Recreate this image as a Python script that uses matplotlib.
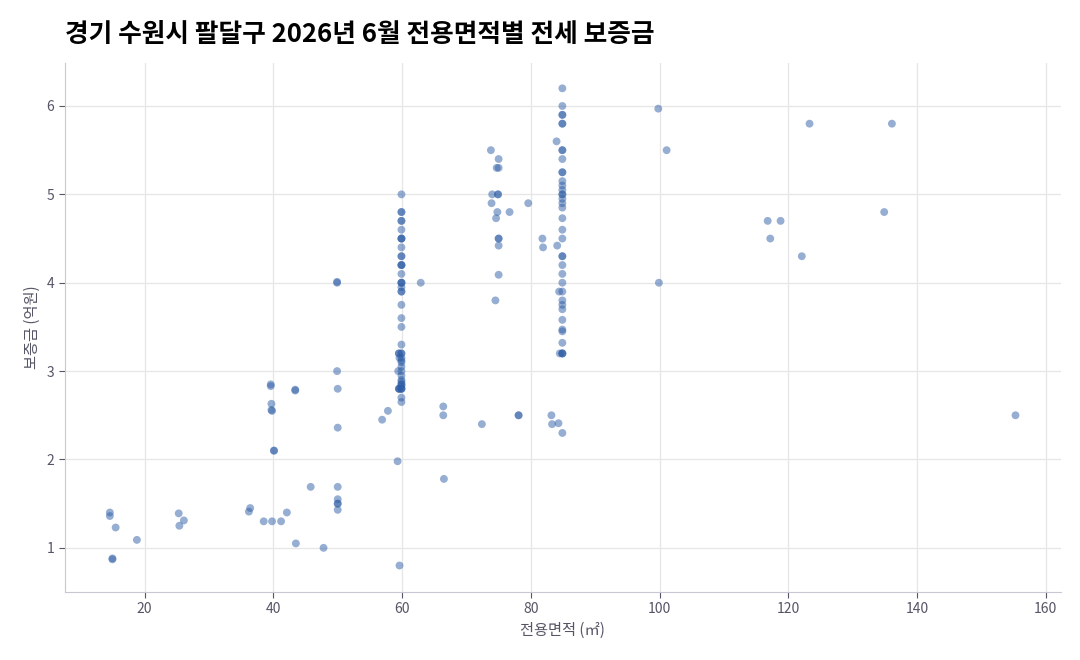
import matplotlib.pyplot as plt

plt.rcParams['font.family'] = ['Noto Sans CJK KR', 'DejaVu Sans']

# area (m²), deposit (억원)
area = [
    14.6, 14.6, 15.0, 15.0, 15.5, 18.8, 25.3, 25.4, 26.1,
    36.2, 36.4, 38.5, 39.6, 39.6, 39.7, 39.7, 39.8, 39.8, 40.1, 40.1, 41.2, 42.1, 43.4, 43.4, 43.5,
    45.8, 47.8, 49.9, 49.9, 49.9, 50.0, 50.0, 50.0, 50.0, 50.0, 50.0, 50.0,
    56.9, 57.8, 59.3, 59.4, 59.5, 59.5, 59.5, 59.5, 59.6, 59.6, 59.6,
] + [59.9] * 44 + [
    62.9, 66.4, 66.4, 66.5, 72.4, 73.8, 73.9, 74.0, 74.5, 74.6, 74.7, 74.8, 74.9, 74.9, 75.0, 75.0,
    75.0, 75.0, 75.0, 75.0, 76.7, 78.1, 78.1, 79.6, 81.8, 81.9, 83.2, 83.3, 84.0, 84.1, 84.3,
    84.4, 84.5,
] + [84.9] * 39 + [
    99.8, 99.9, 101.1, 116.8, 117.2, 118.8, 122.1, 123.3, 134.9, 136.1, 155.3,
]
deposit = [
    1.40, 1.36, 0.87, 0.88, 1.23, 1.09, 1.39, 1.25, 1.31,
    1.41, 1.45, 1.30, 2.85, 2.83, 2.63, 2.56, 2.55, 1.30, 2.10, 2.10, 1.30, 1.40, 2.78, 2.79, 1.05,
    1.69, 1.00, 4.00, 4.01, 3.00, 2.80, 2.36, 1.69, 1.55, 1.50, 1.50, 1.43,
    2.45, 2.55, 1.98, 3.00, 3.20, 3.20, 2.80, 2.80, 0.80, 3.15, 2.80,
    5.00, 4.80, 4.80, 4.70, 4.70, 4.60, 4.50, 4.50, 4.50, 4.40, 4.30, 4.30, 4.20, 4.20, 4.20, 4.10,
    4.00, 4.00, 4.00, 3.95, 3.90, 3.90, 3.75, 3.60, 3.50, 3.30, 3.20, 3.20, 3.15, 3.10, 3.00, 2.95,
    2.90, 2.85, 2.85, 2.80, 2.80, 2.80, 2.70, 2.65, 2.83, 3.05, 3.12, 2.88,
    4.00, 2.60, 2.50, 1.78, 2.40, 5.50, 4.90, 5.00, 3.80, 4.73, 5.30, 4.80, 5.00, 5.00, 5.40, 5.30,
    4.50, 4.50, 4.42, 4.09, 4.80, 2.50, 2.50, 4.90, 4.50, 4.40, 2.50, 2.40, 5.60, 4.42, 2.41,
    3.90, 3.20,
    6.20, 6.00, 5.90, 5.90, 5.80, 5.80, 5.50, 5.50, 5.40, 5.25, 5.25, 5.15, 5.10, 5.05, 5.00,
    5.00, 4.95, 4.90, 4.85, 4.73, 4.60, 4.50, 4.30, 4.30, 4.20, 4.10, 4.00, 3.90, 3.80, 3.75, 3.70,
    3.58, 3.47, 3.45, 3.32, 3.20, 3.20, 2.30, 3.20,
    5.97, 4.00, 5.50, 4.70, 4.50, 4.70, 4.30, 5.80, 4.80, 5.80, 2.50,
]

fig, ax = plt.subplots(figsize=(10.8, 6.6), dpi=100)
ax.scatter(area, deposit, s=32, color='#2f5ea6', alpha=0.5, edgecolors='none', zorder=3)

ax.set_xlim(7.6, 162.3)
ax.set_ylim(0.5, 6.49)
ax.set_xticks([20, 40, 60, 80, 100, 120, 140, 160])
ax.set_yticks([1, 2, 3, 4, 5, 6])
ax.grid(True, color='#e6e6e6', linewidth=0.9, zorder=0)
for side in ('top', 'right'):
    ax.spines[side].set_visible(False)
for side in ('left', 'bottom'):
    ax.spines[side].set_color('#c8c8d2')
ax.tick_params(colors='#555566', labelsize=10, length=4)
ax.set_xlabel('전용면적 (㎡)', fontsize=11, color='#555566')
ax.set_ylabel('보증금 (억원)', fontsize=11, color='#555566')
fig.text(0.06, 0.937, '경기 수원시 팔달구 2026년 6월 전용면적별 전세 보증금',
         fontsize=18.5, fontweight='bold', color='black')

fig.subplots_adjust(left=0.06, right=0.982, top=0.905, bottom=0.103)
fig.savefig('out.png', dpi=100)
